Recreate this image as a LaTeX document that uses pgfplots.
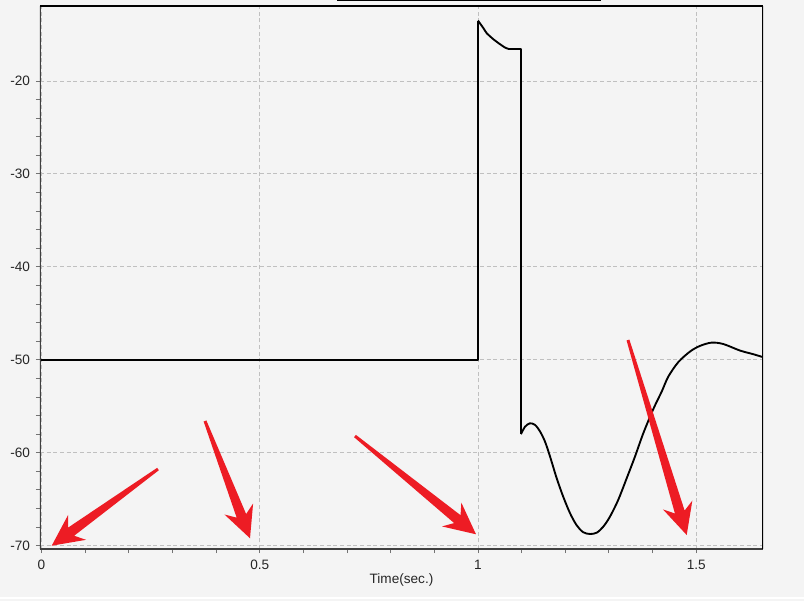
\documentclass[border=0pt]{standalone}
\usepackage{pgfplots}
\pgfplotsset{compat=1.18}
\usepackage{fontspec}
\setmainfont{Liberation Sans}
\usetikzlibrary{calc}

\definecolor{bgc}{HTML}{F4F4F4}
\definecolor{spinec}{HTML}{404040}
\definecolor{gridc}{HTML}{C0C0C0}
\definecolor{arrowred}{HTML}{ED1C24}

% filled tapered arrow from #1 (tail) to #2 (tip)
\newcommand{\bigarrow}[2]{%
  \fill[arrowred]
    ($(#1)!1.1pt!90:(#2)$) --
    ($($(#2)!18pt!(#1)$)!3.8pt!-90:(#1)$) --
    ($($(#2)!23.5pt!(#1)$)!11.5pt!-90:(#1)$) --
    (#2) --
    ($($(#2)!23.5pt!(#1)$)!11.5pt!90:(#1)$) --
    ($($(#2)!18pt!(#1)$)!3.8pt!90:(#1)$) --
    ($(#1)!1.1pt!-90:(#2)$) -- cycle;}

\begin{document}
\begin{tikzpicture}
\fill[bgc] (0,0) rectangle (603pt,450.75pt);
\path[use as bounding box] (0,0) rectangle (603pt,450.75pt);
% window decorations
\draw[black, line width=1.1pt] (252.75pt,450.3pt) -- (450.5pt,450.3pt);
\draw[white, line width=1.2pt] (0,2.1pt) -- (603pt,2.1pt);

\begin{axis}[
  at={(30pt,39pt)}, anchor=south west,
  scale only axis, width=542.25pt, height=407.25pt,
  xmin=-0.0034, xmax=1.6529, ymin=-70.355, ymax=-11.93,
  axis background/.style={fill=bgc},
  axis line style={draw=none},
  xtick={0,0.5,1,1.5}, xticklabels={0,0.5,1,1.5},
  ytick={-70,-60,-50,-40,-30,-20},
  yticklabels={-70,-60,-50,-40,-30,-20},
  minor x tick num=4, minor y tick num=4,
  xtick pos=bottom, ytick pos=left,
  tick align=outside,
  major tick length=3pt, minor tick length=3pt,
  tick style={color=gray!90!black, line width=0.7pt},
  grid=major,
  major grid style={gridc, line width=0.7pt, dash pattern=on 3pt off 2pt},
  tick label style={font=\fontsize{10.2}{12}\selectfont, text=black!85},
  xticklabel style={anchor=base, yshift=-12pt},
  yticklabel style={anchor=east, xshift=-1pt},
  xlabel={Time(sec.)},
  xlabel style={at={(rel axis cs:0.5,0)}, anchor=base, yshift=-25.5pt,
    font=\fontsize{10.2}{12}\selectfont, text=black!85},
]
% frame
\draw[spinec, line width=1.5pt] (rel axis cs:0,0) -- (rel axis cs:0,1);
\draw[spinec, line width=1.5pt] (rel axis cs:0,0) -- (rel axis cs:1,0);
\draw[black, line width=1.5pt] (rel axis cs:0,1) -- (rel axis cs:1,1);
\draw[black, line width=0.9pt] (rel axis cs:1,0) -- (rel axis cs:1,1);

% resting level, step up and step down
\addplot[black, line width=1.4pt, line join=round] coordinates {
  (0,-50) (1.0,-50) (1.0,-13.5)
};
\addplot[black, line width=1.4pt, line join=round, smooth, tension=0.4] coordinates {
  (1.0,-13.5) (1.0122,-14.3) (1.0199,-14.85) (1.0350,-15.5) (1.0504,-16.04)
  (1.0619,-16.4) (1.0694,-16.54)
};
\addplot[black, line width=1.4pt, line join=round] coordinates {
  (1.0694,-16.54) (1.0985,-16.54) (1.0985,-58.0)
};
% oscillation after release
\addplot[black, line width=1.4pt, line join=round, smooth, tension=0.5] coordinates {
  (1.0985,-58.0) (1.1077,-57.2) (1.119,-56.83) (1.1306,-57.0)
  (1.142,-57.7) (1.1535,-58.8) (1.165,-60.4) (1.180,-62.7)
  (1.195,-64.7) (1.2108,-66.5) (1.226,-67.8) (1.241,-68.55)
  (1.2566,-68.74) (1.272,-68.6) (1.287,-67.95) (1.302,-66.9)
  (1.321,-65.1) (1.341,-62.7) (1.3597,-60.4) (1.3787,-57.9)
  (1.4016,-55.3) (1.421,-53.4) (1.436,-51.8) (1.459,-50.24)
  (1.486,-49.1) (1.5086,-48.5) (1.535,-48.15) (1.562,-48.3)
  (1.600,-49.0) (1.631,-49.4) (1.652,-49.7)
};

\coordinate (A1) at (axis cs:0.2669,-61.75);
\coordinate (B1) at (axis cs:0.0234,-70.0);
\coordinate (A2) at (axis cs:0.3746,-56.58);
\coordinate (B2) at (axis cs:0.4777,-69.2);
\coordinate (A3) at (axis cs:0.7182,-58.2);
\coordinate (B3) at (axis cs:0.9954,-68.77);
\coordinate (A4) at (axis cs:1.3436,-47.87);
\coordinate (B4) at (axis cs:1.4781,-68.85);
\end{axis}

\bigarrow{A1}{B1}
\bigarrow{A2}{B2}
\bigarrow{A3}{B3}
\bigarrow{A4}{B4}
\end{tikzpicture}
\end{document}
